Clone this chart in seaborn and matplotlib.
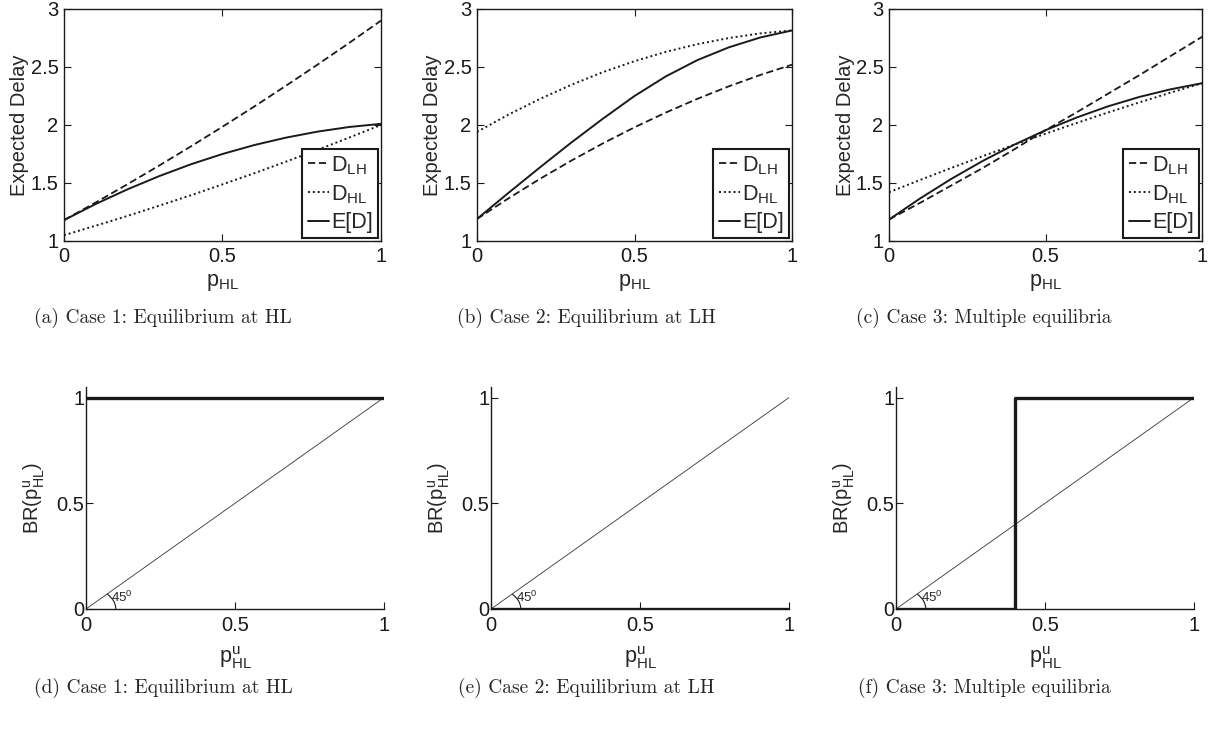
import numpy as np
import pandas as pd
import seaborn as sns
import matplotlib.pyplot as plt
from matplotlib.patches import Arc
from matplotlib.ticker import FormatStrFormatter

# --- data ---
p_hl = [0.0, 0.1, 0.2, 0.3, 0.4, 0.5, 0.6, 0.7, 0.8, 0.9, 1.0]

# case 1: equilibrium at HL
c1_d_lh = [1.18, 1.332, 1.489, 1.650, 1.815, 1.985, 2.159, 2.338, 2.521, 2.708, 2.90]
c1_d_hl = [1.05, 1.132, 1.216, 1.304, 1.394, 1.488, 1.584, 1.684, 1.786, 1.892, 2.00]
c1_ed = [1.18, 1.319, 1.445, 1.559, 1.661, 1.750, 1.827, 1.891, 1.943, 1.983, 2.01]

# case 2: equilibrium at LH
c2_d_lh = [1.19, 1.368, 1.536, 1.694, 1.842, 1.980, 2.108, 2.226, 2.334, 2.432, 2.52]
c2_d_hl = [1.94, 2.090, 2.225, 2.347, 2.456, 2.550, 2.631, 2.697, 2.750, 2.790, 2.815]
c2_ed = [1.19, 1.415, 1.635, 1.85, 2.055, 2.25, 2.42, 2.56, 2.67, 2.755, 2.815]

# case 3: multiple equilibria
c3_d_lh = [1.185, 1.33, 1.48, 1.63, 1.79, 1.955, 2.11, 2.27, 2.43, 2.595, 2.76]
c3_d_hl = [1.42, 1.527, 1.631, 1.732, 1.830, 1.925, 2.018, 2.108, 2.195, 2.279, 2.36]
c3_ed = [1.185, 1.368, 1.537, 1.691, 1.830, 1.955, 2.065, 2.161, 2.242, 2.308, 2.36]

# best response curves
diag_x = [0, 1]
diag_y = [0, 1]
br1_x, br1_y = [0, 1], [1, 1]
br2_x, br2_y = [0, 1], [0, 0]
br3_x, br3_y = [0, 0.4, 0.4, 1], [0, 0, 1, 1]

captions_top = ["(a) Case 1: Equilibrium at HL", "(b) Case 2: Equilibrium at LH",
                "(c) Case 3: Multiple equilibria"]
captions_bot = ["(d) Case 1: Equilibrium at HL", "(e) Case 2: Equilibrium at LH",
                "(f) Case 3: Multiple equilibria"]

sns.set_theme(style="ticks")
plt.rcParams['font.family'] = ['Liberation Sans', 'DejaVu Sans']
plt.rcParams['mathtext.default'] = 'regular'
plt.rcParams['axes.linewidth'] = 1.0

W, H = 1211, 740
fig = plt.figure(figsize=(W / 100, H / 100), dpi=100)


def px_axes(left, right, top, bottom):
    return fig.add_axes([left / W, 1 - bottom / H, (right - left) / W, (bottom - top) / H])


FS = 14.5

top_boxes = [(64, 381), (477, 792), (889, 1202)]
cases = [(c1_d_lh, c1_d_hl, c1_ed), (c2_d_lh, c2_d_hl, c2_ed), (c3_d_lh, c3_d_hl, c3_ed)]

for (l, r), (d_lh, d_hl, ed) in zip(top_boxes, cases):
    ax = px_axes(l, r, 9, 241)
    sns.lineplot(x=p_hl, y=d_lh, ax=ax, color='k', linestyle=(0, (4, 2)), lw=1.3, label=r'$D_{LH}$')
    sns.lineplot(x=p_hl, y=d_hl, ax=ax, color='k', linestyle=(0, (1, 1.5)), lw=1.4, label=r'$D_{HL}$')
    sns.lineplot(x=p_hl, y=ed, ax=ax, color='k', linestyle='-', lw=1.4, label='E[D]')
    ax.set_xlim(0, 1)
    ax.set_ylim(1, 3)
    ax.set_xticks([0, 0.5, 1])
    ax.set_yticks([1, 1.5, 2, 2.5, 3])
    ax.xaxis.set_major_formatter(FormatStrFormatter('%g'))
    ax.yaxis.set_major_formatter(FormatStrFormatter('%g'))
    ax.tick_params(direction='in', top=True, right=True, length=5, width=0.8,
                   labelsize=FS, colors='k', pad=4)
    for s in ax.spines.values():
        s.set_color('k')
    ax.set_xlabel(r'$p_{HL}$', fontsize=FS + 1)
    ax.set_ylabel('Expected Delay', fontsize=FS)
    ax.xaxis.set_label_coords(0.5, -0.135)
    ax.yaxis.set_label_coords(-0.11, 0.5)
    leg = ax.legend(loc='lower right', fontsize=FS + 1, handlelength=1.0, handletextpad=0.1,
                    borderpad=0.25, labelspacing=0.3, borderaxespad=0.12,
                    fancybox=False, framealpha=1, edgecolor='k')
    leg.get_frame().set_linewidth(1.5)

bot_boxes = [(86, 384), (491, 789), (896, 1194)]
brs = [(br1_x, br1_y), (br2_x, br2_y), (br3_x, br3_y)]

for (l, r), (bx, by) in zip(bot_boxes, brs):
    ax = px_axes(l, r, 387, 609)
    sns.lineplot(x=diag_x, y=diag_y, ax=ax, color='#333333', lw=0.6)
    sns.lineplot(x=bx, y=by, ax=ax, color='k', lw=2.4, sort=False, estimator=None)
    ax.add_patch(Arc((0, 0), 0.2, 0.2, theta1=0, theta2=45, color='k', lw=0.8))
    ax.text(0.085, 0.02, r'$45^0$', fontsize=9.5, ha='left', va='bottom')
    ax.set_xlim(0, 1)
    ax.set_ylim(0, 1.05)
    ax.set_xticks([0, 0.5, 1])
    ax.set_yticks([0, 0.5, 1])
    ax.xaxis.set_major_formatter(FormatStrFormatter('%g'))
    ax.yaxis.set_major_formatter(FormatStrFormatter('%g'))
    ax.tick_params(axis='y', direction='in', length=5, width=0.8, labelsize=FS, colors='k', pad=1)
    ax.tick_params(axis='x', direction='in', length=5, width=0.8, labelsize=FS, colors='k', pad=5)
    sns.despine(ax=ax)
    for s in ax.spines.values():
        s.set_color('k')
    ax.set_xlabel(r'$p^{u}_{HL}$', fontsize=FS + 1)
    ax.set_ylabel(r'BR($p^{u}_{HL}$)', fontsize=FS)
    ax.xaxis.set_label_coords(0.5, -0.16)
    ax.yaxis.set_label_coords(-0.13, 0.5)

cap_x = [163, 586, 984]
for cx, t in zip(cap_x, captions_top):
    fig.text(cx / W, 1 - 318 / H, t, fontsize=14, family='cmr10', ha='center', va='center')
for cx, t in zip(cap_x, captions_bot):
    fig.text(cx / W, 1 - 688 / H, t, fontsize=14, family='cmr10', ha='center', va='center')

fig.savefig('out.png', dpi=100)
